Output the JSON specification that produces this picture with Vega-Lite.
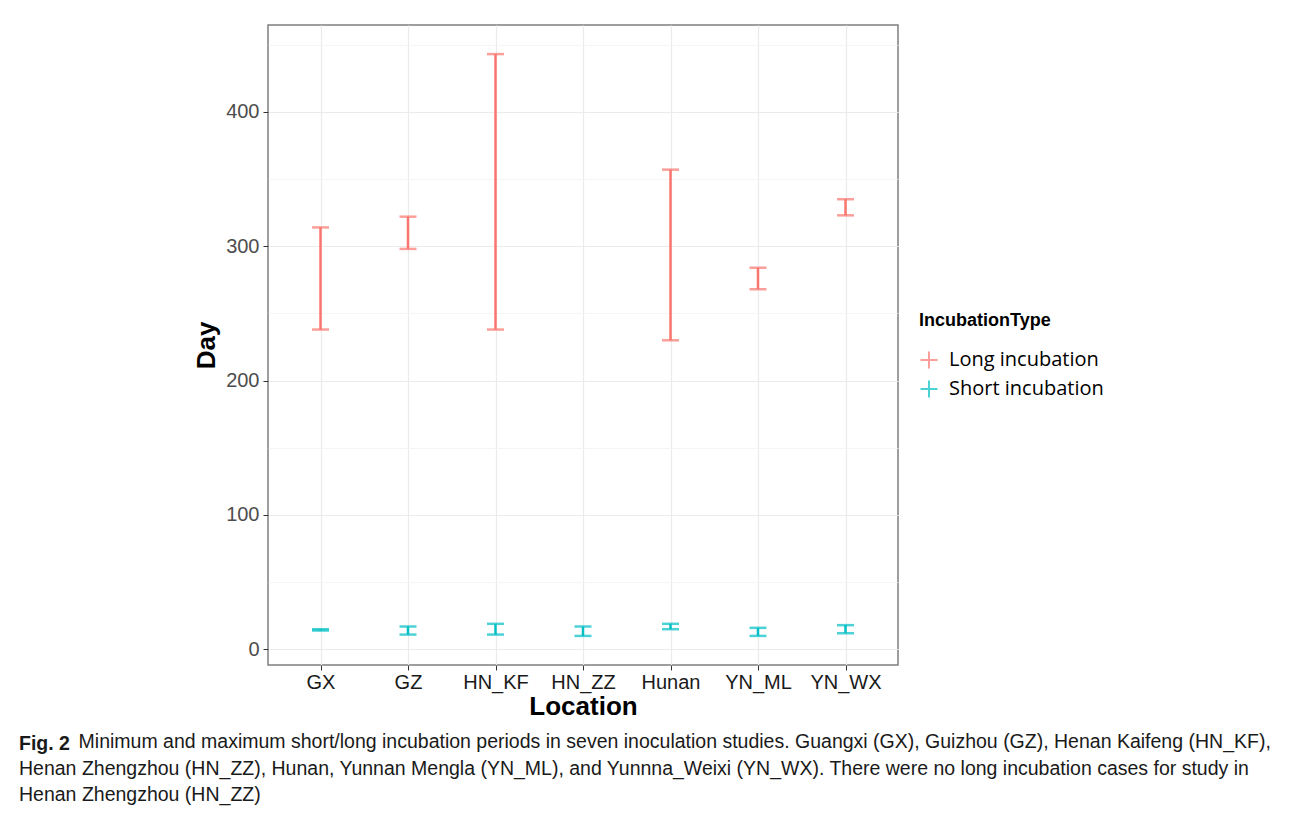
{
  "$schema": "https://vega.github.io/schema/vega-lite/v6.json",
  "autosize": "none",
  "width": 630,
  "height": 640,
  "padding": {"left": 268, "top": 25, "right": 394, "bottom": 151},
  "background": "white",
  "title": {
    "text": "Fig. 2",
    "subtitle": [
      "\u200c\u00a0\u00a0\u00a0\u00a0\u00a0\u00a0\u00a0\u00a0\u00a0\u00a0\u00a0Minimum and maximum short/long incubation periods in seven inoculation studies. Guangxi (GX), Guizhou (GZ), Henan Kaifeng (HN_KF),",
      "Henan Zhengzhou (HN_ZZ), Hunan, Yunnan Mengla (YN_ML), and Yunnna_Weixi (YN_WX). There were no long incubation cases for study in",
      "Henan Zhengzhou (HN_ZZ)"
    ],
    "orient": "bottom",
    "anchor": "start",
    "frame": "group",
    "dx": -249,
    "offset": 16,
    "font": "Liberation Sans",
    "fontSize": 19.5,
    "fontWeight": "bold",
    "color": "#1a1a1a",
    "subtitleFont": "Liberation Sans",
    "subtitleFontSize": 19.5,
    "subtitleColor": "#1a1a1a",
    "subtitleLineHeight": 26.5,
    "subtitlePadding": -21.5,
    "baseline": "top"
  },
  "data": {
    "values": [
      {"Location": "GX", "IncubationType": "Long incubation", "min": 238, "max": 314},
      {"Location": "GZ", "IncubationType": "Long incubation", "min": 298, "max": 322},
      {"Location": "HN_KF", "IncubationType": "Long incubation", "min": 238, "max": 443},
      {"Location": "Hunan", "IncubationType": "Long incubation", "min": 230, "max": 357},
      {"Location": "YN_ML", "IncubationType": "Long incubation", "min": 268, "max": 284},
      {"Location": "YN_WX", "IncubationType": "Long incubation", "min": 323, "max": 335},
      {"Location": "GX", "IncubationType": "Short incubation", "min": 14, "max": 15},
      {"Location": "GZ", "IncubationType": "Short incubation", "min": 11, "max": 17},
      {"Location": "HN_KF", "IncubationType": "Short incubation", "min": 11, "max": 19},
      {"Location": "HN_ZZ", "IncubationType": "Short incubation", "min": 10, "max": 17},
      {"Location": "Hunan", "IncubationType": "Short incubation", "min": 15, "max": 19},
      {"Location": "YN_ML", "IncubationType": "Short incubation", "min": 10, "max": 16},
      {"Location": "YN_WX", "IncubationType": "Short incubation", "min": 12, "max": 18}
    ]
  },
  "encoding": {
    "x": {
      "field": "Location",
      "type": "nominal",
      "sort": ["GX", "GZ", "HN_KF", "HN_ZZ", "Hunan", "YN_ML", "YN_WX"],
      "scale": {"type": "point", "padding": 0.6},
      "axis": {
        "title": "Location",
        "titleFont": "Liberation Sans",
        "titleFontSize": 26,
        "titleFontWeight": "bold",
        "titleColor": "#000000",
        "titlePadding": 1,
        "labelFont": "Liberation Sans",
        "labelFontSize": 20,
        "labelColor": "#1a1a1a",
        "labelPadding": 2,
        "labelAngle": 0,
        "tickColor": "#333333",
        "tickSize": 5,
        "tickWidth": 1,
        "domain": false,
        "grid": true,
        "gridColor": "#EBEBEB",
        "gridWidth": 1.2
      }
    },
    "color": {
      "field": "IncubationType",
      "type": "nominal",
      "scale": {"domain": ["Long incubation", "Short incubation"], "range": ["#F8766D", "#00BFC4"]},
      "legend": {
        "title": "IncubationType",
        "orient": "none",
        "legendX": 651,
        "legendY": 287,
        "titleFont": "Liberation Sans",
        "titleFontSize": 18,
        "titleFontWeight": "bold",
        "titleColor": "#000000",
        "titlePadding": 20,
        "labelFont": "Open Sans",
        "labelFontSize": 20,
        "labelColor": "#000000",
        "labelOffset": 10,
        "rowPadding": 3,
        "symbolType": "M-1,0H1M0,-1V1",
        "symbolSize": 289,
        "symbolStrokeWidth": 2,
        "symbolFillColor": "transparent"
      }
    }
  },
  "layer": [
    {
      "mark": {"type": "rule", "strokeWidth": 2.5},
      "encoding": {
        "y": {
          "field": "min",
          "type": "quantitative",
          "scale": {"domain": [-11.65, 464.65], "nice": false, "zero": false},
          "axis": {
            "title": "Day",
            "values": [0, 100, 200, 300, 400],
            "titleFont": "Liberation Sans",
            "titleFontSize": 26,
            "titleFontWeight": "bold",
            "titleColor": "#000000",
            "titlePadding": 6,
            "labelFont": "Liberation Sans",
            "labelFontSize": 20,
            "labelColor": "#4D4D4D",
            "labelPadding": 4,
            "tickColor": "#333333",
            "tickSize": 5,
            "domain": false,
            "grid": true,
            "gridColor": "#EBEBEB",
            "gridWidth": 1.2
          }
        },
        "y2": {"field": "max"}
      }
    },
    {
      "mark": {"type": "tick", "size": 17, "thickness": 2.5},
      "encoding": {"y": {"field": "min", "type": "quantitative", "axis": null}}
    },
    {
      "mark": {"type": "tick", "size": 17, "thickness": 2.5},
      "encoding": {
        "y": {
          "field": "max",
          "type": "quantitative",
          "axis": {
            "orient": "left",
            "title": null,
            "values": [50, 150, 250, 350, 450],
            "labels": false,
            "ticks": false,
            "domain": false,
            "grid": true,
            "gridColor": "#F2F2F2",
            "gridWidth": 0.8
          }
        }
      }
    }
  ],
  "resolve": {"axis": {"y": "independent"}},
  "config": {
    "view": {"stroke": "#7F7F7F", "strokeWidth": 1.5},
    "axis": {"zindex": 0}
  }
}
